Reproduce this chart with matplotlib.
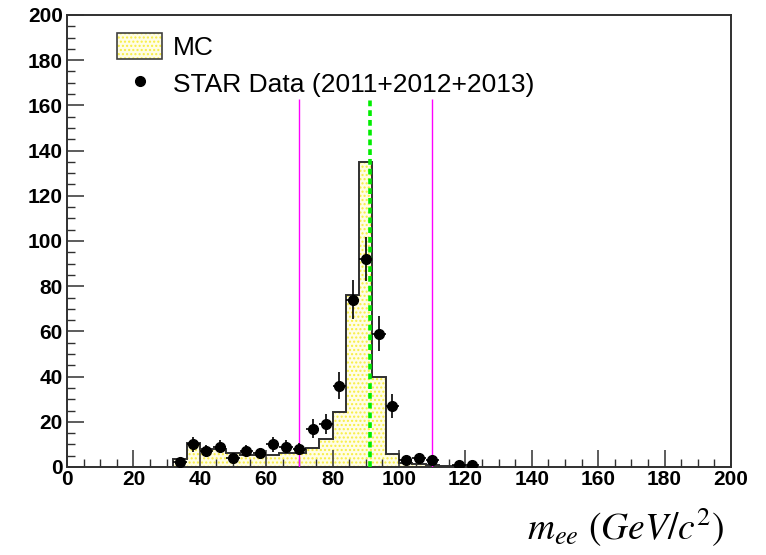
import numpy as np
import matplotlib
matplotlib.use("Agg")
import matplotlib.pyplot as plt
from matplotlib.patches import Patch
from matplotlib.lines import Line2D
from matplotlib.legend_handler import HandlerTuple

# MC histogram (4 GeV bins, left edges)
mc_edges = [32, 36, 40, 44, 48, 52, 56, 60, 64, 68, 72, 76, 80, 84, 88, 92, 96,
            100, 104, 108, 112, 116, 120, 124]
mc_counts = [3.4, 10.5, 7.8, 7.8, 6.0, 5.2, 5.2, 5.5, 6.0, 6.3, 8.2, 12.6, 24.5,
             76.0, 135.0, 39.7, 5.6, 1.8, 1.5, 1.0, 0.5, 0.3, 0.2]

# STAR data points (bin centres)
data_x = [34, 38, 42, 46, 50, 54, 58, 62, 66, 70, 74, 78, 82, 86, 90, 94, 98,
          102, 106, 110, 118, 122]
data_y = [2, 10, 7, 9, 4, 7, 6, 10, 9, 8, 17, 19, 36, 74, 92, 59, 27,
          3, 4, 3, 1, 1]

z_mass = 91.19
window = [70, 110]

plt.rcParams['font.family'] = ['Liberation Sans', 'DejaVu Sans']
plt.rcParams['mathtext.fontset'] = 'stix'
plt.rcParams['hatch.linewidth'] = 1.0

fig = plt.figure(figsize=(7.66, 5.55), dpi=100)
ax = fig.add_axes([67/766, 1-467/555, (731-67)/766, (467-15)/555])

edges = np.array(mc_edges, dtype=float)
counts = np.array(mc_counts)
yy = np.append(counts, counts[-1])
fill_col = '#fffde6'
hatch_col = '#f8ee40'
ax.fill_between(edges, 0, yy, step='post', facecolor=fill_col, hatch='....',
                edgecolor=hatch_col, linewidth=0, zorder=1)
ax.stairs(counts, edges, color='#303030', linewidth=1.4, zorder=2)

# selection window and Z mass
ax.vlines(window, 0, 163, colors='magenta', linewidth=1.0, zorder=3)
ax.plot([z_mass, z_mass], [0, 163], color='#00ee00', linewidth=2.6,
        dashes=(1.6, 1.1), zorder=4)

dy = np.sqrt(np.array(data_y, dtype=float))
ax.errorbar(data_x, data_y, yerr=dy, xerr=2, fmt='o', color='black', ms=7,
            elinewidth=1.2, capsize=0, zorder=5)

ax.set_xlim(0, 200)
ax.set_ylim(0, 200)
ax.set_xticks(np.arange(0, 201, 20))
ax.set_yticks(np.arange(0, 201, 20))
ax.set_xticks(np.arange(0, 201, 5), minor=True)
ax.set_yticks(np.arange(0, 201, 5), minor=True)
ax.tick_params(which='major', direction='in', length=12, width=1.1, labelsize=15,
               color='#303030')
ax.tick_params(which='minor', direction='in', length=6, width=1.0, color='#303030')
ax.tick_params(axis='x', pad=2)
ax.tick_params(axis='y', pad=3)
for lab in ax.get_xticklabels() + ax.get_yticklabels():
    lab.set_fontweight('bold')
for sp in ax.spines.values():
    sp.set_linewidth(1.4)
    sp.set_color('#303030')

# legend: hatched fill + separate outline so the dots stay yellow
mc_fill = Patch(facecolor=fill_col, hatch='....', edgecolor=hatch_col, linewidth=0)
mc_edge = Patch(facecolor='none', edgecolor='#404040', linewidth=1.2)
data_h = Line2D([], [], marker='o', ls='none', color='black', ms=7)
leg = fig.legend([(mc_fill, mc_edge), data_h], ['MC', 'STAR Data (2011+2012+2013)'],
                 handler_map={tuple: HandlerTuple(ndivide=1, pad=0)},
                 loc='upper left', bbox_to_anchor=(104/766, 1-20/555),
                 frameon=False, fontsize=19, borderpad=0, handlelength=1.7,
                 handleheight=1.1, handletextpad=0.4, labelspacing=0.4)

fig.text(724/766, 1-549/555, r'$m_{ee}\ (GeV/c^{2})$', ha='right', va='bottom',
         fontsize=27)

fig.savefig('out.png', dpi=100)
